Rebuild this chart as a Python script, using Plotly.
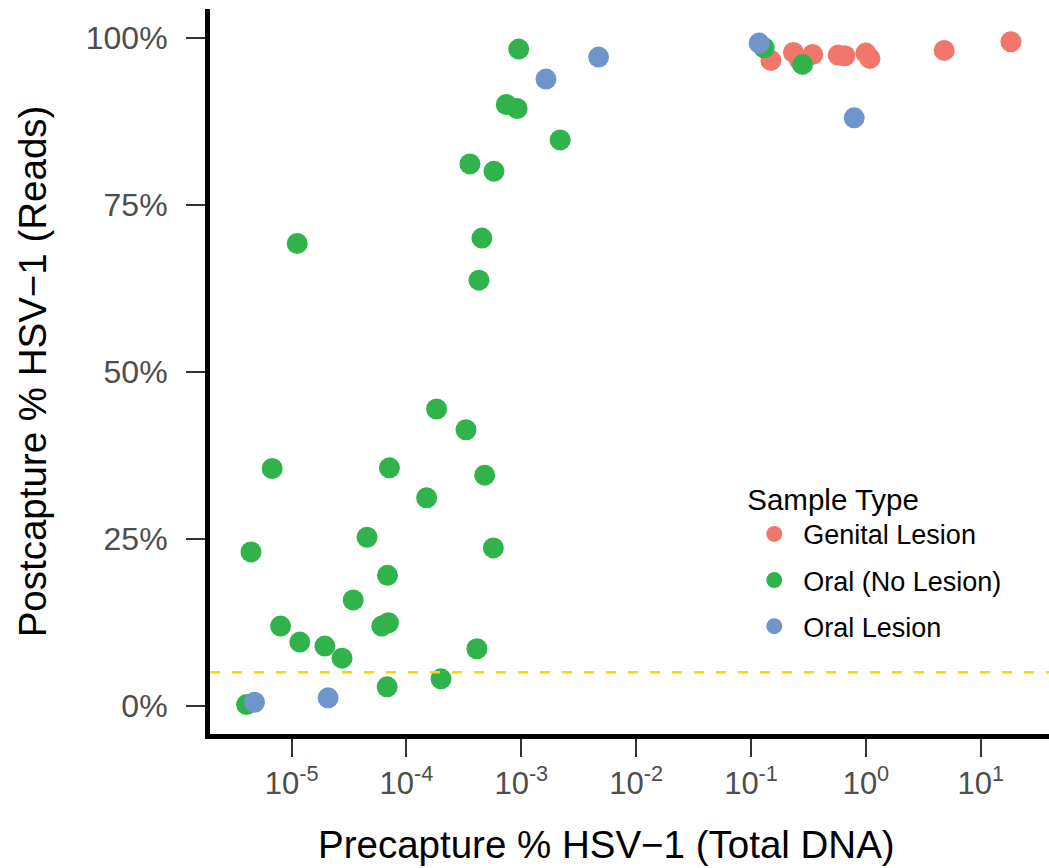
import plotly.graph_objects as go

# ---- data (precapture % of total DNA, postcapture fraction of reads) ----
genital_pre = [0.149, 0.234, 0.263, 0.344, 0.574, 0.656, 1.0, 1.084, 4.80, 18.3]
genital_post = [0.966, 0.978, 0.967, 0.975, 0.974, 0.973, 0.977, 0.969, 0.981, 0.994]

oral_nolesion_pre = [9.5e-4, 7.4e-4, 9.2e-4, 2.18e-3, 3.57e-4, 5.78e-4, 1.12e-5, 4.54e-4,
                     4.28e-4, 1.83e-4, 3.30e-4, 6.78e-6, 7.11e-5, 4.80e-4, 1.50e-4, 4.43e-6,
                     4.54e-5, 5.71e-4, 6.84e-5, 3.44e-5, 8.02e-6, 6.10e-5, 6.97e-5, 1.18e-5,
                     1.95e-5, 2.75e-5, 4.11e-4, 2.00e-4, 6.79e-5, 4.06e-6, 0.130, 0.281]
oral_nolesion_post = [0.983, 0.900, 0.894, 0.847, 0.811, 0.800, 0.692, 0.700,
                      0.637, 0.444, 0.413, 0.355, 0.356, 0.345, 0.311, 0.230,
                      0.252, 0.236, 0.195, 0.158, 0.119, 0.119, 0.124, 0.095,
                      0.089, 0.071, 0.085, 0.040, 0.028, 0.0015, 0.985, 0.960]

oral_lesion_pre = [4.71e-3, 1.64e-3, 4.76e-6, 2.08e-5, 0.1175, 0.791]
oral_lesion_post = [0.971, 0.938, 0.005, 0.0115, 0.992, 0.880]

threshold = 0.05

x_tick_vals = [1e-5, 1e-4, 1e-3, 1e-2, 1e-1, 1e0, 1e1]
x_tick_text = ["10<sup>-5</sup>", "10<sup>-4</sup>", "10<sup>-3</sup>", "10<sup>-2</sup>",
               "10<sup>-1</sup>", "10<sup>0</sup>", "10<sup>1</sup>"]
y_tick_vals = [0, 0.25, 0.5, 0.75, 1.0]
y_tick_text = ["0%", "25%", "50%", "75%", "100%"]

x_title = "Precapture % HSV\u22121 (Total DNA)"
y_title = "Postcapture % HSV\u22121 (Reads)"

series = [
    ("Genital Lesion", genital_pre, genital_post, "#F1766B"),
    ("Oral (No Lesion)", oral_nolesion_pre, oral_nolesion_post, "#31B34C"),
    ("Oral Lesion", oral_lesion_pre, oral_lesion_post, "#7095CD"),
]

FONT = "Liberation Sans"

fig = go.Figure()
for name, xs, ys, col in series:
    fig.add_trace(go.Scatter(
        x=xs, y=ys, mode="markers", name=name, legendgroup=name,
        marker=dict(size=21, color=col, line=dict(width=0)),
    ))

fig.add_shape(type="line", xref="paper", x0=0, x1=1, yref="y", y0=threshold, y1=threshold,
              line=dict(color="#FFD400", width=2.5, dash="10px,12px"), layer="above")

# x-axis title (placed as in the reference, slightly left of panel centre)
fig.add_annotation(text=x_title, xref="paper", yref="paper", x=0.472, y=0,
                   xanchor="center", yanchor="top", yshift=-87, showarrow=False,
                   font=dict(size=38.5, family=FONT, color="black"))

fig.update_layout(
    width=1049, height=868, autosize=False,
    margin=dict(l=210, r=0, t=9, b=133.5),
    paper_bgcolor="white", plot_bgcolor="white",
    font=dict(family=FONT, color="black"),
    showlegend=True,
    legend=dict(
        title=dict(text="Sample Type", font=dict(size=29.5, family=FONT, color="black")),
        font=dict(size=27, family=FONT, color="black"),
        x=0.638, y=0.362, xanchor="left", yanchor="top",
        bgcolor="rgba(0,0,0,0)", tracegroupgap=8, itemwidth=48,
    ),
    xaxis=dict(
        type="log", range=[-5.710, 1.594],
        tickvals=x_tick_vals, ticktext=x_tick_text,
        showgrid=False, zeroline=False,
        showline=True, linecolor="black", linewidth=5,
        ticks="outside", ticklen=18, tickwidth=2, tickcolor="#333333",
        tickfont=dict(size=31, family=FONT, color="#4D4D4D"),
    ),
    yaxis=dict(
        range=[-0.0426, 1.043],
        tickvals=y_tick_vals, ticktext=y_tick_text,
        showgrid=False, zeroline=False,
        showline=True, linecolor="black", linewidth=5,
        ticks="outside", ticklen=19, tickwidth=2, tickcolor="#333333",
        tickfont=dict(size=32, family=FONT, color="#4D4D4D"),
        ticklabelstandoff=12,
        title=dict(text=y_title,
                   font=dict(size=38.5, family=FONT, color="black"), standoff=29),
    ),
)

fig.write_html("out.html", config={"displayModeBar": False},
               post_script="document.body.style.margin='0px';")
